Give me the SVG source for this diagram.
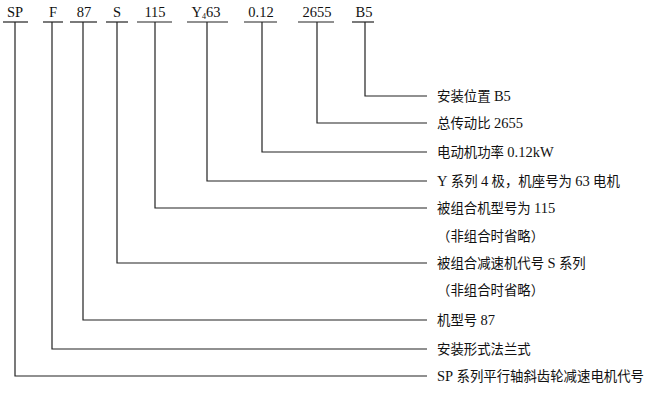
<svg xmlns="http://www.w3.org/2000/svg" width="650" height="407" viewBox="0 0 650 407">
<style>
.t{font-family:"Liberation Serif","Noto Sans CJK SC",serif;font-size:13.4px;fill:#111;}
.t tspan{font-size:14.5px;}
.h{font-family:"Liberation Serif",serif;font-size:14.5px;fill:#111;text-anchor:middle;}
.ln{fill:none;stroke:#222;stroke-width:1.2;}
</style>
<rect width="650" height="407" fill="#fff"/>
<g id="codes">
<g id="n-sp"><text class="h" x="15" y="17">SP</text><line class="ln" x1="3" y1="22" x2="28" y2="22"/></g>
<g id="n-f"><text class="h" x="53" y="17">F</text><line class="ln" x1="43" y1="22" x2="63" y2="22"/></g>
<g id="n-87"><text class="h" x="84" y="17">87</text><line class="ln" x1="70" y1="22" x2="97" y2="22"/></g>
<g id="n-s"><text class="h" x="117" y="17">S</text><line class="ln" x1="106" y1="22" x2="128" y2="22"/></g>
<g id="n-115"><text class="h" x="155" y="17">115</text><line class="ln" x1="137" y1="22" x2="172" y2="22"/></g>
<g id="n-y"><text class="h" x="206" y="17">Y<tspan font-size="8" dy="2">4</tspan><tspan dy="-2">63</tspan></text><line class="ln" x1="187" y1="22" x2="228" y2="22"/></g>
<g id="n-012"><text class="h" x="261" y="17">0.12</text><line class="ln" x1="244" y1="22" x2="277" y2="22"/></g>
<g id="n-2655"><text class="h" x="317" y="17">2655</text><line class="ln" x1="298" y1="22" x2="334" y2="22"/></g>
<g id="n-b5"><text class="h" x="364" y="17">B5</text><line class="ln" x1="352" y1="22" x2="374" y2="22"/></g>
</g>
<g id="connectors">
<polyline class="ln" points="15,22 15,376 427,376"/>
<polyline class="ln" points="52,22 52,349 427,349"/>
<polyline class="ln" points="83,22 83,320 427,320"/>
<polyline class="ln" points="117,22 117,263 427,263"/>
<polyline class="ln" points="155,22 155,208 427,208"/>
<polyline class="ln" points="207,22 207,181 427,181"/>
<polyline class="ln" points="262,22 262,152 427,152"/>
<polyline class="ln" points="317,22 317,123 427,123"/>
<polyline class="ln" points="365,22 365,96 427,96"/>
</g>
<g id="labels">
<g id="l-b5"><text class="t" x="437" y="101">安装位置 <tspan>B5</tspan></text></g>
<g id="l-2655"><text class="t" x="437" y="128">总传动比 <tspan>2655</tspan></text></g>
<g id="l-012"><text class="t" x="437" y="157">电动机功率 <tspan>0.12kW</tspan></text></g>
<g id="l-y"><text class="t" x="437" y="186"><tspan>Y</tspan> 系列 <tspan>4</tspan> 极，机座号为 <tspan>63</tspan> 电机</text></g>
<g id="l-115"><text class="t" x="437" y="213">被组合机型号为 <tspan>115</tspan></text><text class="t" x="437" y="241">（非组合时省略）</text></g>
<g id="l-s"><text class="t" x="437" y="268">被组合减速机代号 <tspan>S</tspan> 系列</text><text class="t" x="437" y="295">（非组合时省略）</text></g>
<g id="l-87"><text class="t" x="437" y="325">机型号 <tspan>87</tspan></text></g>
<g id="l-f"><text class="t" x="437" y="354">安装形式法兰式</text></g>
<g id="l-sp"><text class="t" x="437" y="381"><tspan>SP</tspan> 系列平行轴斜齿轮减速电机代号</text></g>
</g>
</svg>
